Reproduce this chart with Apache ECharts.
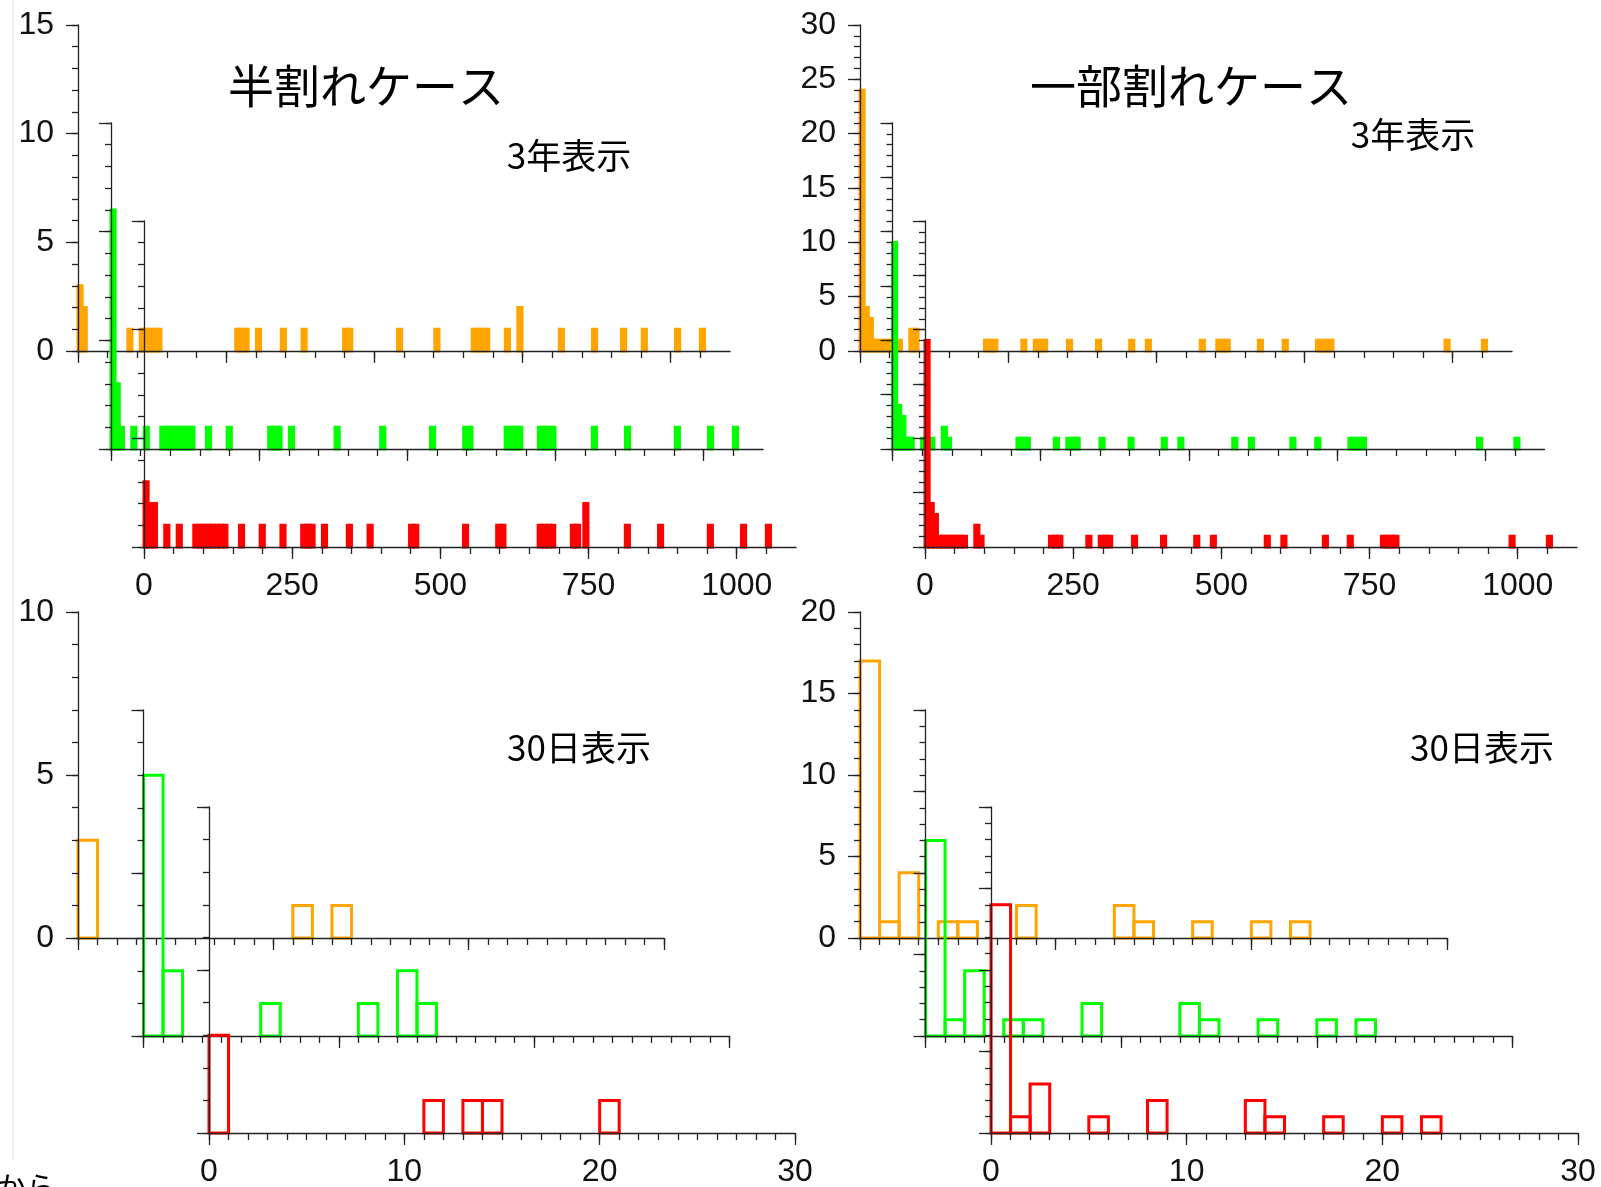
<!DOCTYPE html>
<html><head><meta charset="utf-8">
<script src="https://cdn.jsdelivr.net/npm/echarts@6/dist/echarts.min.js"></script>
<style>html,body{margin:0;padding:0;background:#fff;} #c{width:1601px;height:1187px;}</style>
</head><body><div id="c"></div>
<script>
// ---------------- data ----------------
// bin widths (days)
const BIN_3Y = 7;
const BIN_30D = 1;

// 3-year view, half-split case: [bin start day, count]
const tlOrange = [[0,3],[7,2],[84,1],[105,1],[112,1],[119,1],[126,1],[133,1],[266,1],[273,1],[280,1],[301,1],[343,1],[378,1],[448,1],[455,1],[539,1],[602,1],[665,1],[672,1],[679,1],[686,1],[721,1],[742,2],[812,1],[868,1],[917,1],[952,1],[1008,1],[1050,1]];
const tlGreen  = [[0,11],[7,3],[14,1],[35,1],[56,1],[84,1],[91,1],[98,1],[105,1],[112,1],[119,1],[126,1],[133,1],[161,1],[196,1],[266,1],[273,1],[280,1],[301,1],[378,1],[455,1],[539,1],[595,1],[602,1],[665,1],[672,1],[679,1],[686,1],[721,1],[728,1],[735,1],[742,1],[812,1],[868,1],[952,1],[1008,1],[1050,1]];
const tlRed    = [[0,3],[7,2],[14,2],[35,1],[56,1],[84,1],[91,1],[98,1],[105,1],[112,1],[119,1],[126,1],[133,1],[161,1],[196,1],[231,1],[266,1],[273,1],[280,1],[301,1],[343,1],[378,1],[448,1],[455,1],[539,1],[595,1],[602,1],[665,1],[672,1],[679,1],[686,1],[721,1],[728,1],[742,2],[812,1],[868,1],[952,1],[1008,1],[1050,1]];

// 3-year view, partial-split case
const trOrange = [[0,24],[7,4],[14,3],[21,1],[28,1],[35,1],[42,1],[49,1],[56,1],[63,1],[84,2],[91,2],[210,1],[217,1],[224,1],[273,1],[294,1],[301,1],[308,1],[350,1],[399,1],[455,1],[483,1],[574,1],[602,1],[609,1],[616,1],[672,1],[714,1],[770,1],[777,1],[784,1],[791,1],[987,1],[1050,1]];
const trGreen  = [[0,19],[7,4],[14,3],[21,1],[28,1],[49,1],[56,1],[63,1],[84,2],[91,1],[210,1],[217,1],[224,1],[273,1],[294,1],[301,1],[308,1],[350,1],[399,1],[455,1],[483,1],[574,1],[602,1],[672,1],[714,1],[770,1],[777,1],[784,1],[791,1],[987,1],[1050,1]];
const trRed    = [[0,19],[7,4],[14,3],[21,1],[28,1],[35,1],[42,1],[49,1],[56,1],[63,1],[84,2],[91,1],[210,1],[217,1],[224,1],[273,1],[294,1],[301,1],[308,1],[350,1],[399,1],[455,1],[483,1],[574,1],[602,1],[672,1],[714,1],[770,1],[777,1],[784,1],[791,1],[987,1],[1050,1]];

// 30-day view, half-split case
const blOrange = [[0,3],[11,1],[13,1]];
const blGreen  = [[0,8],[1,2],[6,1],[11,1],[13,2],[14,1]];
const blRed    = [[0,3],[11,1],[13,1],[14,1],[20,1]];

// 30-day view, partial-split case
const brOrange = [[0,17],[1,1],[2,4],[4,1],[5,1],[8,2],[13,2],[14,1],[17,1],[20,1],[22,1]];
const brGreen  = [[0,12],[1,1],[2,4],[4,1],[5,1],[8,2],[13,2],[14,1],[17,1],[20,1],[22,1]];
const brRed    = [[0,14],[1,1],[2,3],[5,1],[8,2],[13,2],[14,1],[17,1],[20,1],[22,1]];

// tick labels
const TICKS_3Y_X  = [0, 250, 500, 750, 1000];
const TICKS_30D_X = [0, 10, 20, 30];
const TICKS_Y_TL  = [0, 5, 10, 15];
const TICKS_Y_TR  = [0, 5, 10, 15, 20, 25, 30];
const TICKS_Y_BL  = [0, 5, 10];
const TICKS_Y_BR  = [0, 5, 10, 15, 20];
function steps(a, b, s) { const r = []; for (let v = a; v <= b + 1e-9; v += s) r.push(v); return r; }
const MINOR_3Y_X  = steps(0, 1050, 50);
const MINOR_30D_X = steps(0, 30, 1);

const TITLE_L = '半割れケース';
const TITLE_R = '一部割れケース';
const SUB_3Y  = '3年表示';
const SUB_30D = '30日表示';

// ---------------- layout / style ----------------
const COLORS = ['#FFA500', '#00FF00', '#FF0000'];
const AX = '#222';
const FONT = '"Liberation Sans", Arial, sans-serif';
const JFONT = '"Noto Sans CJK JP", sans-serif';

const panels = [
  {data:[tlOrange, tlGreen, tlRed], org:[[78,25],[111,123],[144,221]], w:652, h:326, xMax:1100, yMax:15, xMaj:TICKS_3Y_X, xMin:MINOR_3Y_X, yMaj:TICKS_Y_TL, bin:BIN_3Y, filled:true},
  {data:[trOrange, trGreen, trRed], org:[[860,25],[892.5,123],[925,221]], w:652, h:326, xMax:1100, yMax:30, xMaj:TICKS_3Y_X, xMin:MINOR_3Y_X, yMaj:TICKS_Y_TR, bin:BIN_3Y, filled:true},
  {data:[blOrange, blGreen, blRed], org:[[78,612],[143.5,710],[209,807]], w:586, h:326, xMax:30, yMax:10, xMaj:TICKS_30D_X, xMin:MINOR_30D_X, yMaj:TICKS_Y_BL, bin:BIN_30D, filled:false},
  {data:[brOrange, brGreen, brRed], org:[[860,612],[925.5,710],[991,807]], w:587, h:326, xMax:30, yMax:20, xMaj:TICKS_30D_X, xMin:MINOR_30D_X, yMaj:TICKS_Y_BR, bin:BIN_30D, filled:false}
];

function makeRender(bin, color, filled) {
  return function (params, api) {
    const x0 = api.value(0), c = api.value(1);
    const a = api.coord([x0, 0]);
    const b = api.coord([x0 + bin, c]);
    return {
      type: 'rect',
      shape: {x: a[0], y: b[1], width: b[0] - a[0], height: a[1] - b[1]},
      style: {fill: filled ? color : 'rgba(0,0,0,0)', stroke: color, lineWidth: 3}
    };
  };
}

const plain = v => String(v);
const grids = [], xAxes = [], yAxes = [], series = [];
panels.forEach(p => {
  const yMinor = steps(0, p.yMax, 1);
  p.data.forEach((d, si) => {
    const k = grids.length;
    const zA = 3 + 2 * si, zS = 2 + 2 * si;
    grids.push({left: p.org[si][0], top: p.org[si][1], width: p.w, height: p.h, containLabel: false, outerBoundsMode: 'none'});
    const lab = {fontSize: 32, fontFamily: FONT, color: '#111', formatter: plain};
    xAxes.push({gridIndex: k, type: 'value', min: 0, max: p.xMax, position: 'bottom', z: zA,
      axisLine: {show: true, onZero: false, lineStyle: {color: AX, width: 1.3}},
      axisTick: {show: true, length: 7, customValues: p.xMin, lineStyle: {color: AX, width: 1.3}},
      axisLabel: {show: false, customValues: p.xMin}, splitLine: {show: false}});
    xAxes.push({gridIndex: k, type: 'value', min: 0, max: p.xMax, position: 'bottom', z: zA,
      axisLine: {show: false, onZero: false},
      axisTick: {show: true, length: 12, customValues: p.xMaj, lineStyle: {color: AX, width: 1.3}},
      axisLabel: Object.assign({show: si === 2, customValues: p.xMaj, margin: 23}, lab), splitLine: {show: false}});
    yAxes.push({gridIndex: k, type: 'value', min: 0, max: p.yMax, position: 'left', z: zA,
      axisLine: {show: true, onZero: false, lineStyle: {color: AX, width: 1.3}},
      axisTick: {show: true, length: 6, customValues: yMinor, lineStyle: {color: AX, width: 1.3}},
      axisLabel: {show: false, customValues: yMinor}, splitLine: {show: false}});
    yAxes.push({gridIndex: k, type: 'value', min: 0, max: p.yMax, position: 'left', z: zA,
      axisLine: {show: false, onZero: false},
      axisTick: {show: true, length: 12, customValues: p.yMaj, lineStyle: {color: AX, width: 1.3}},
      axisLabel: Object.assign({show: si === 0, customValues: p.yMaj, margin: 24}, lab), splitLine: {show: false}});
    series.push({type: 'custom', xAxisIndex: 2 * k, yAxisIndex: 2 * k, z: zS, silent: true,
      data: d, renderItem: makeRender(p.bin, COLORS[si], p.filled)});
  });
});

function txt(t, x, y, size) {
  return {type: 'text', x: x, y: y, z: 20, silent: true,
    style: {text: t, fontSize: size, fontFamily: JFONT, fill: '#000',
      align: 'center', verticalAlign: 'middle', textAlign: 'center', textVerticalAlign: 'middle'}};
}

const chart = echarts.init(document.getElementById('c'), null, {renderer: 'canvas'});
chart.setOption({
  animation: false,
  backgroundColor: '#fff',
  grid: grids, xAxis: xAxes, yAxis: yAxes, series: series,
  graphic: [
    {type: 'line', silent: true, z: 0, shape: {x1: 13, y1: 0, x2: 13, y2: 1160}, style: {stroke: '#e6e6e6', lineWidth: 1}},
    txt(TITLE_L, 366, 86, 46),
    txt(TITLE_R, 1191, 86, 46),
    txt(SUB_3Y, 569, 156, 35),
    txt(SUB_3Y, 1413, 135, 35),
    txt(SUB_30D, 579, 748, 35),
    txt(SUB_30D, 1482, 748, 35),
    {type: 'text', x: -4, y: 1172, silent: true, style: {text: 'から', fontSize: 30, fontFamily: JFONT, fill: '#000', align: 'left', verticalAlign: 'top', textAlign: 'left', textVerticalAlign: 'top'}}
  ]
});
</script></body></html>
